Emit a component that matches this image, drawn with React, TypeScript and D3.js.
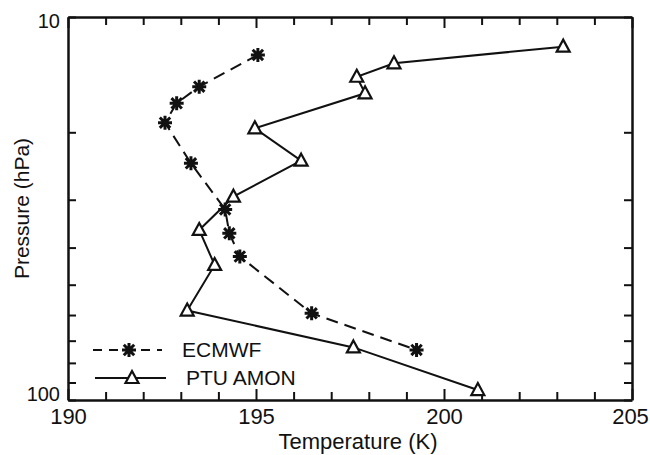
import React, { useRef, useEffect } from "react";
import * as d3 from "d3";

// ECMWF profile (asterisks, dashed)
const ecmwfTemp = [195.05, 193.49, 192.89, 192.58, 193.27, 194.18, 194.29, 194.57, 196.48, 199.27];
const ecmwfPres = [12.56, 15.2, 16.8, 18.88, 24.1, 31.8, 36.7, 42.2, 59.4, 74.0];

// PTU AMON profile (triangles, solid)
const ptuTemp = [203.17, 198.67, 197.68, 197.9, 194.97, 196.2, 194.4, 193.49, 193.9, 193.17, 197.59, 200.9];
const ptuPres = [11.95, 13.21, 14.32, 15.82, 19.53, 23.72, 29.45, 35.98, 44.4, 58.4, 72.9, 94.2];

const xTicks = d3.range(190, 206, 1);
const xLabels = [190, 195, 200, 205];
const yTicks = [10, 20, 30, 40, 50, 60, 70, 80, 90, 100];
const yLabels = [10, 100];

const FONT = "'Liberation Sans', Arial, Helvetica, sans-serif";

const ProfileChart = ({ width = 650, height = 455 }) => {
  const svgRef = useRef(null);

  useEffect(() => {
    const margin = { top: 17, right: 18, bottom: 55, left: 68 };
    const innerWidth = width - margin.left - margin.right;
    const innerHeight = height - margin.top - margin.bottom;

    const svg = d3.select(svgRef.current).attr("width", width).attr("height", height);
    svg.selectAll("*").remove();

    const x = d3.scaleLinear().domain([190, 205]).range([0, innerWidth]);
    const y = d3.scaleLog().domain([10, 100]).range([0, innerHeight]);

    const g = svg.append("g").attr("transform", `translate(${margin.left},${margin.top})`);

    // axes, ticks point inward
    const bottom = g.append("g")
      .attr("transform", `translate(0,${innerHeight})`)
      .call(d3.axisBottom(x).tickValues(xTicks).tickSizeInner(-8).tickSizeOuter(0).tickPadding(8)
        .tickFormat((d) => (xLabels.includes(d) ? String(d) : "")));
    bottom.selectAll(".tick line").filter((d) => xLabels.includes(d)).attr("y2", -11);

    const top = g.append("g")
      .call(d3.axisTop(x).tickValues(xTicks).tickSizeInner(-8).tickSizeOuter(0).tickFormat(() => ""));
    top.selectAll(".tick line").filter((d) => xLabels.includes(d)).attr("y2", 11);

    g.append("g")
      .call(d3.axisLeft(y).tickValues(yTicks).tickSizeInner(-8).tickSizeOuter(0).tickFormat(() => ""));

    g.append("g")
      .attr("transform", `translate(${innerWidth},0)`)
      .call(d3.axisRight(y).tickValues(yTicks).tickSizeInner(-8).tickSizeOuter(0).tickFormat(() => ""));

    g.selectAll(".domain").attr("stroke", "#111").attr("stroke-width", 2.5);
    g.selectAll(".tick line").attr("stroke", "#111").attr("stroke-width", 2);
    bottom.selectAll(".tick text").attr("font-family", FONT).attr("font-size", 22).attr("fill", "#111");
    // keep the last label inside the picture
    bottom.selectAll(".tick text").filter((d) => d === 205).attr("dx", -2);

    // y labels (10 sits just below top, 100 just above bottom)
    g.selectAll(".ylab")
      .data(yLabels)
      .enter()
      .append("text")
      .attr("x", -8)
      .attr("y", (d) => y(d) + (d === 10 ? 11 : 1))
      .attr("text-anchor", "end")
      .attr("font-family", FONT)
      .attr("font-size", 20)
      .attr("fill", "#111")
      .text((d) => d);

    // axis titles
    svg.append("text")
      .attr("x", 358)
      .attr("y", 449)
      .attr("text-anchor", "middle")
      .attr("font-family", FONT)
      .attr("font-size", 22)
      .attr("fill", "#111")
      .text("Temperature (K)");

    svg.append("text")
      .attr("transform", `translate(29,${margin.top + innerHeight / 2}) rotate(-90)`)
      .attr("text-anchor", "middle")
      .attr("font-family", FONT)
      .attr("font-size", 21)
      .attr("fill", "#111")
      .text("Pressure (hPa)");

    const ecmwf = ecmwfTemp.map((t, i) => ({ t, p: ecmwfPres[i] }));
    const ptu = ptuTemp.map((t, i) => ({ t, p: ptuPres[i] }));

    const line = d3.line().x((d) => x(d.t)).y((d) => y(d.p));

    const starPath = "M-7,0H7M0,-7V7M-5.2,-5.2L5.2,5.2M-5.2,5.2L5.2,-5.2";
    const triPath = "M0,-7L6.5,5H-6.5Z";

    g.append("path")
      .datum(ecmwf)
      .attr("d", line)
      .attr("fill", "none")
      .attr("stroke", "#111")
      .attr("stroke-width", 2)
      .attr("stroke-dasharray", "12,7");

    g.append("path")
      .datum(ptu)
      .attr("d", line)
      .attr("fill", "none")
      .attr("stroke", "#111")
      .attr("stroke-width", 2);

    g.selectAll(".star")
      .data(ecmwf)
      .enter()
      .append("path")
      .attr("class", "star")
      .attr("transform", (d) => `translate(${x(d.t)},${y(d.p)})`)
      .attr("d", starPath)
      .attr("stroke", "#111")
      .attr("stroke-width", 3);

    g.selectAll(".tri")
      .data(ptu)
      .enter()
      .append("path")
      .attr("class", "tri")
      .attr("transform", (d) => `translate(${x(d.t)},${y(d.p)})`)
      .attr("d", triPath)
      .attr("fill", "white")
      .attr("stroke", "#111")
      .attr("stroke-width", 2.2);

    // legend
    const legend = svg.append("g");
    legend.append("line")
      .attr("x1", 93).attr("x2", 162).attr("y1", 350).attr("y2", 350)
      .attr("stroke", "#111").attr("stroke-width", 2).attr("stroke-dasharray", "9,7");
    legend.append("path")
      .attr("transform", "translate(129,350)")
      .attr("d", starPath)
      .attr("stroke", "#111").attr("stroke-width", 3);
    legend.append("text")
      .attr("x", 182).attr("y", 357)
      .attr("font-family", FONT).attr("font-size", 21).attr("fill", "#111")
      .text("ECMWF");

    legend.append("line")
      .attr("x1", 95).attr("x2", 166).attr("y1", 378).attr("y2", 378)
      .attr("stroke", "#111").attr("stroke-width", 2);
    legend.append("path")
      .attr("transform", "translate(132,378)")
      .attr("d", triPath)
      .attr("fill", "white")
      .attr("stroke", "#111").attr("stroke-width", 2.2);
    legend.append("text")
      .attr("x", 186).attr("y", 385)
      .attr("font-family", FONT).attr("font-size", 21).attr("fill", "#111")
      .text("PTU AMON");
  }, [width, height]);

  return <svg ref={svgRef} style={{ position: "absolute", left: 0, top: 0, background: "white" }}></svg>;
};

export default function App() {
  return <ProfileChart />;
}
